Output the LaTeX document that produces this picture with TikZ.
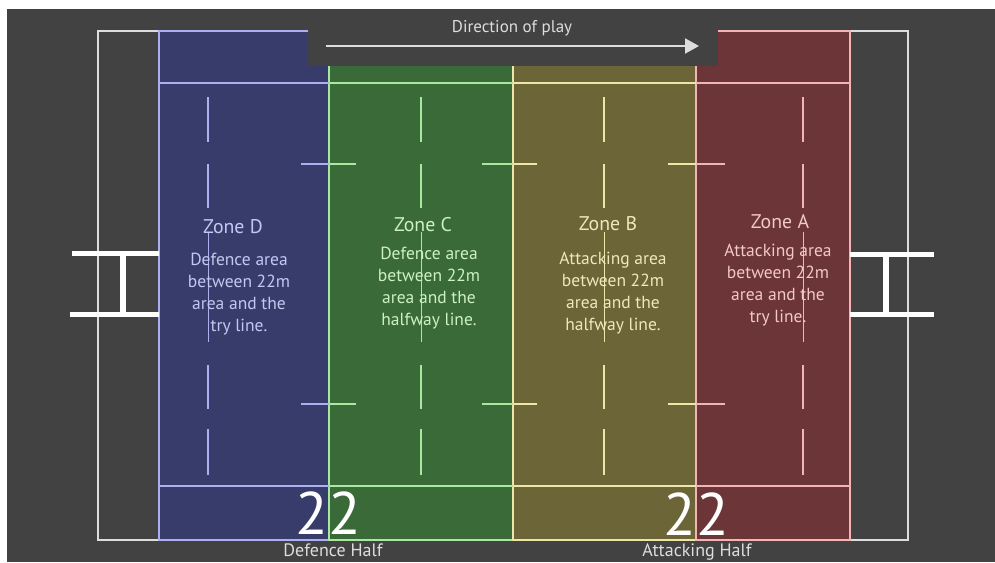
\documentclass[tikz,border=0pt]{standalone}
\usepackage{fontspec}
\setmainfont{PT Sans}
\usetikzlibrary{arrows.meta}

\definecolor{pitchbg}{HTML}{424242}
\definecolor{pitchline}{HTML}{DDDDDD}
\definecolor{zoneDfill}{HTML}{383C6B}
\definecolor{zoneCfill}{HTML}{3A6A38}
\definecolor{zoneBfill}{HTML}{6B6537}
\definecolor{zoneAfill}{HTML}{6C3537}
\definecolor{zoneDline}{HTML}{AAB0F0}
\definecolor{zoneCline}{HTML}{A8E8A0}
\definecolor{zoneBline}{HTML}{EEE6A6}
\definecolor{zoneAline}{HTML}{F2B4B4}
\definecolor{zoneDtext}{HTML}{C4C8F0}
\definecolor{zoneCtext}{HTML}{CDF0C6}
\definecolor{zoneBtext}{HTML}{EEE8BC}
\definecolor{zoneAtext}{HTML}{F2C8C8}

\begin{document}
\begin{tikzpicture}[x=1pt, y=-1pt,
    markline/.style={line width=1.5pt},
    zonetitle/.style={font=\fontsize{19.8}{22}\selectfont},
    zonetext/.style={font=\fontsize{17.5}{22}\selectfont, align=center},
    bignum/.style={font=\fontsize{60}{60}\selectfont, text=white, anchor=base, inner sep=0pt, text depth=0pt},
    halflabel/.style={font=\fontsize{18}{20}\selectfont, text=pitchline, anchor=base, inner sep=0pt}]
    \useasboundingbox (0,0) rectangle (995,562);
    \fill[pitchbg] (7,9) rectangle (995,562);

    % Dead ball lines and touch lines
    \draw[pitchline, line width=1.5pt] (98,31) rectangle (908,540);

    % Zones
    \filldraw[fill=zoneDfill, draw=zoneDline, line width=1.2pt] (159,31) rectangle (329,540);
    \filldraw[fill=zoneCfill, draw=zoneCline, line width=1.2pt] (329,31) rectangle (513,540);
    \filldraw[fill=zoneBfill, draw=zoneBline, line width=1.2pt] (513,31) rectangle (696,540);
    \filldraw[fill=zoneAfill, draw=zoneAline, line width=1.2pt] (696,31) rectangle (850,540);

    % 5m lines along the touch lines
    \foreach \yy in {83,486} {
        \draw[zoneDline, markline] (159,\yy) -- (329,\yy);
        \draw[zoneCline, markline] (329,\yy) -- (513,\yy);
        \draw[zoneBline, markline] (513,\yy) -- (696,\yy);
        \draw[zoneAline, markline] (696,\yy) -- (850,\yy);
    }

    % Dashed lines in each zone
    \foreach \xx/\col in {208/zoneDline, 421/zoneCline, 604/zoneBline, 803/zoneAline} {
        \foreach \ya/\yb in {97/142, 164/208, 365/409, 429/475}
            \draw[\col, markline] (\xx,\ya) -- (\xx,\yb);
        \draw[\col, line width=0.6pt] (\xx,232) -- (\xx,342);
    }

    % Ticks across the 22m and halfway lines
    \foreach \yy in {164,404} {
        \draw[zoneDline, markline] (301,\yy) -- (329,\yy);
        \draw[zoneCline, markline] (329,\yy) -- (356,\yy);
        \draw[zoneCline, markline] (482,\yy) -- (513,\yy);
        \draw[zoneBline, markline] (513,\yy) -- (537,\yy);
        \draw[zoneBline, markline] (668,\yy) -- (696,\yy);
        \draw[zoneAline, markline] (696,\yy) -- (725,\yy);
    }

    % Goal posts
    \draw[white, line width=5pt] (72,253) -- (159,253);
    \draw[white, line width=5pt] (70,314) -- (159,314);
    \draw[white, line width=5.5pt] (123,253) -- (123,314);
    \draw[white, line width=5pt] (850,254) -- (934,254);
    \draw[white, line width=5pt] (850,314) -- (934,314);
    \draw[white, line width=5.5pt] (886,254) -- (886,314);

    % Direction of play
    \fill[pitchbg] (308,9) rectangle (718,66);
    \node[font=\fontsize{17}{18}\selectfont, text=pitchline] (playtitle) at (512,28) {Direction of play};
    \coordinate (playstart) at (326,46);
    \coordinate (playend) at (699,46);
    \draw[pitchline, line width=2pt, -{Triangle[length=14pt, width=15pt]}] (playstart) -- (playend);

    % Zone labels
    \node[zonetitle, text=zoneDtext] (titleD) at (233,227) {Zone D};
    \node[zonetitle, text=zoneCtext] (titleC) at (423,225) {Zone C};
    \node[zonetitle, text=zoneBtext] (titleB) at (608,224) {Zone B};
    \node[zonetitle, text=zoneAtext] (titleA) at (780,222) {Zone A};
    \node[zonetext, text=zoneDtext] (textD) at (239,294) {Defence area\\between 22m\\area and the\\try line.};
    \node[zonetext, text=zoneCtext] (textC) at (429,288) {Defence area\\between 22m\\area and the\\halfway line.};
    \node[zonetext, text=zoneBtext] (textB) at (613,293) {Attacking area\\between 22m\\area and the\\halfway line.};
    \node[zonetext, text=zoneAtext] (textA) at (778,285) {Attacking area\\between 22m\\area and the\\try line.};

    % 22m numbers and halves
    \node[bignum] (num22D) at (328,534) {22};
    \node[bignum] (num22A) at (696,535) {22};
    \node[halflabel] (defhalf) at (333,556) {Defence Half};
    \node[halflabel] (atthalf) at (697,556) {Attacking Half};
\end{tikzpicture}
\end{document}
